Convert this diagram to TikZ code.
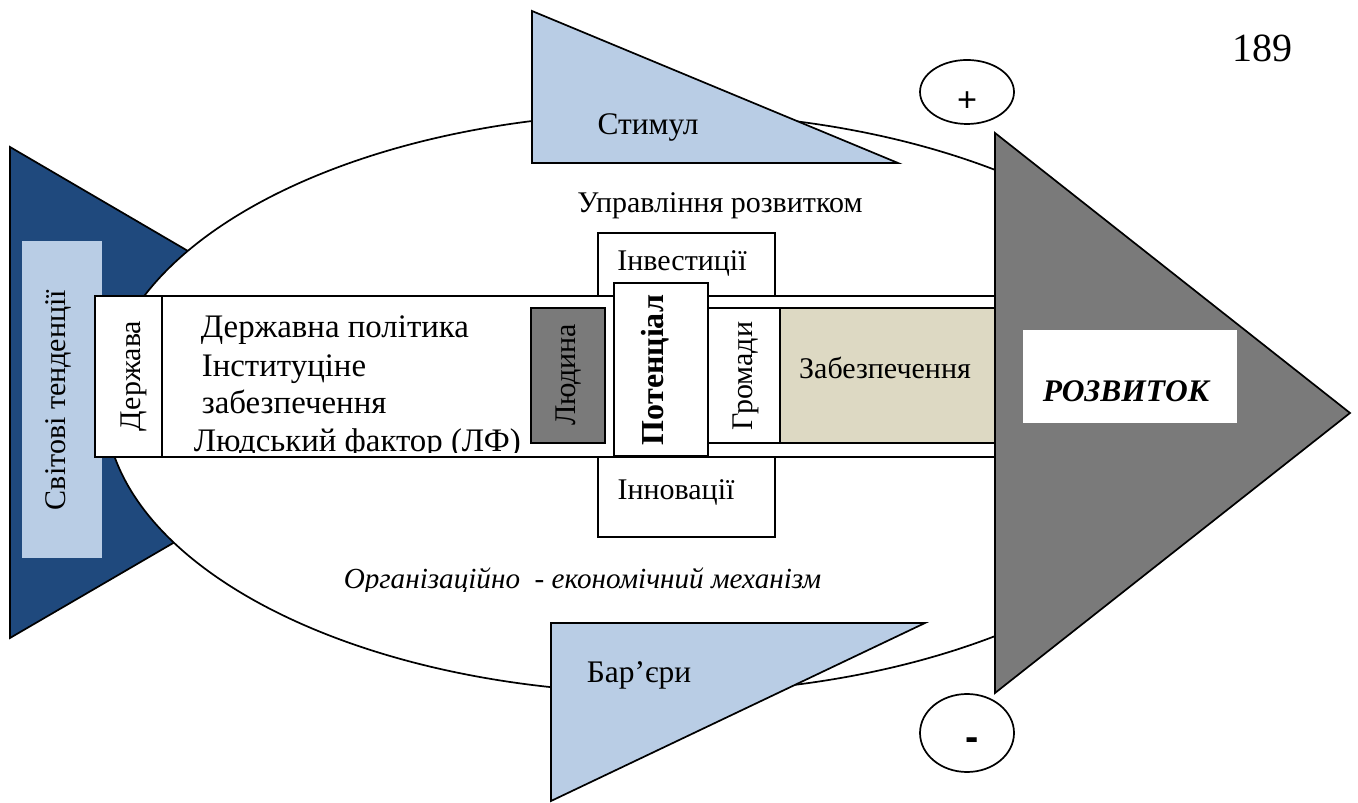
\documentclass[tikz,border=0pt]{standalone}
\usepackage{fontspec}
\setmainfont{Liberation Serif}
\setsansfont{Liberation Sans}
\definecolor{tailblue}{HTML}{1F497D}
\definecolor{lightblue}{HTML}{B9CDE5}
\definecolor{tanfill}{HTML}{DDD9C3}
\definecolor{hatchgray}{HTML}{7A7A7A}
\begin{document}
\begin{tikzpicture}[x=0.35pt,y=-0.35pt, line width=0.6pt, line join=miter,
  shp/.style={draw=black},
  txt/.style={inner sep=0pt, font=\fontsize{10.5}{12}\selectfont},
  bigtxt/.style={inner sep=0pt, anchor=base west, font=\fontsize{11.5}{13}\selectfont},
  vtxt/.style={inner sep=0pt, rotate=90, font=\fontsize{10.5}{12}\selectfont},
  sign/.style={inner sep=0pt, font=\sffamily\fontsize{12}{12}\selectfont}]
\useasboundingbox (0,0) rectangle (1358,803);
% tail
\filldraw[shp, fill=tailblue] (10,147) -- (431,393) -- (10,638) -- cycle;
\fill[lightblue] (22,241) rectangle (102,558);
\node[vtxt] (svit) at (58,400) {Світові тенденції};
% body
\filldraw[shp, fill=white] (663,403) ellipse [x radius=558, y radius=290];
% fins
\filldraw[shp, fill=lightblue] (532,11) -- (532,163) -- (898,163) -- cycle;
\filldraw[shp, fill=lightblue] (551,623) -- (925,623) -- (551,801) -- cycle;
\node[txt, anchor=base, font=\fontsize{11}{12}\selectfont] (stim) at (648,135) {Стимул};
\node[txt, anchor=base, font=\fontsize{11}{12}\selectfont] (bar) at (639,683) {Бар’єри};
% head
\filldraw[shp, fill=hatchgray] (995,133) -- (1350,413) -- (995,693) -- cycle;
\fill[white] (1023,330) rectangle (1237,423);
\node[txt, anchor=base, font=\bfseries\itshape\fontsize{11}{12}\selectfont] (rozv) at (1126,402) {РОЗВИТОК};
% signs
\draw[shp] (967,92) ellipse [x radius=47, y radius=32];
\node[sign] (plus) at (967,102) {+};
\draw[shp] (967,733) ellipse [x radius=47, y radius=39];
\node[sign, font=\sffamily\bfseries\fontsize{14}{14}\selectfont] (minus) at (972,744) {-};
% investments / innovations
\filldraw[shp, fill=white] (598,233) rectangle (775,537);
\node[txt, anchor=base] (inv) at (682,271) {Інвестиції};
\node[txt, anchor=base] (inn) at (676,500) {Інновації};
% spine band
\filldraw[shp, fill=white] (95,296) rectangle (995,457);
\draw[shp] (162,296) -- (162,457);
\node[vtxt] (derzh) at (134,376) {Держава};
\node[bigtxt] (l1) at (200,338) {Державна політика};
\node[bigtxt] (l2) at (201,377) {Інституціне};
\node[bigtxt] (l3) at (201,414) {забезпечення};
\begin{scope}
\clip (162,296) rectangle (530,453);
\node[bigtxt] (l4) at (193,452) {Людський фактор (ЛФ)};
\end{scope}
\filldraw[shp, fill=hatchgray] (531,308) rectangle (605,443);
\node[vtxt] (lyud) at (569,375) {Людина};
\filldraw[shp, fill=white] (614,283) rectangle (708,456);
\node[vtxt, font=\bfseries\fontsize{11.2}{12}\selectfont] (pot) at (655,370) {Потенціал};
\filldraw[shp, fill=white] (708,308) rectangle (780,443);
\node[vtxt] (grom) at (746,376) {Громади};
\filldraw[shp, fill=tanfill] (780,308) rectangle (995,443);
\node[txt, anchor=base] (zab) at (885,379) {Забезпечення};
% labels
\node[txt, anchor=base] (upr) at (720,213) {Управління розвитком};
\begin{scope}
\clip (200,540) rectangle (900,592);
\node[txt, anchor=base east, font=\itshape\fontsize{10.2}{12}\selectfont] (org) at (822,589) {Організаційно~~- економічний механізм};
\end{scope}
\node[txt, font=\fontsize{14}{16}\selectfont] (page) at (1262,48) {189};
\end{tikzpicture}
\end{document}
